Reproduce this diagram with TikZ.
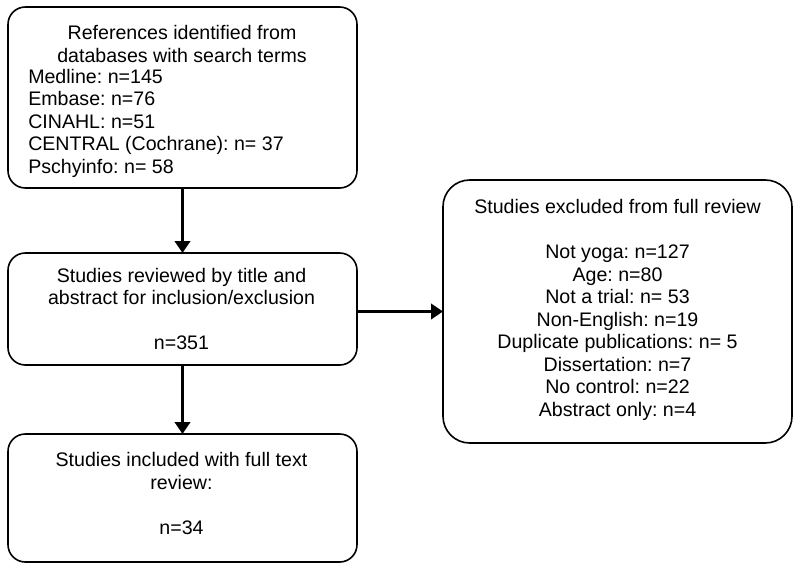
\documentclass[tikz,border=0pt]{standalone}
\usepackage{fontspec}
\setmainfont{Liberation Sans}
\usetikzlibrary{arrows.meta}
\frenchspacing
\begin{document}
\begin{tikzpicture}[x=0.75pt,y=-0.75pt,
  box/.style={draw, line width=1.2pt, rounded corners=13pt, inner sep=0pt, outer sep=0pt, minimum width=261.75pt},
  txt/.style={inner sep=0pt, font=\fontsize{14.7}{16.9}\selectfont},
  arr/.style={line width=2.4pt, -{Triangle[length=9pt,width=11.5pt]}}]
\useasboundingbox (0,0) rectangle (800,568);
\node[box, minimum height=135.75pt] (b1) at (182.5,97.5) {};
\node[box, minimum height=84pt] (b2) at (182.5,309) {};
\node[box, minimum height=96pt] (b4) at (182.5,498) {};
\node[box, rounded corners=20pt, minimum height=197.25pt] (b3) at (617.5,311.5) {};
\node[txt, align=center] (t1a) at (182,44) {References identified from\\databases with search terms};
\node[txt, align=left, anchor=west] (t1b) at (28,123) {Medline: n=145\\Embase: n=76\\CINAHL: n=51\\CENTRAL (Cochrane): n= 37\\Pschyinfo: n= 58};
\node[txt, align=center] (t2) at (181.5,309) {Studies reviewed by title and\\abstract for inclusion/exclusion\\[16.9pt]n=351};
\node[txt, align=center] (t4) at (181.5,493.5) {Studies included with full text\\review:\\[16.9pt]n=34};
\node[txt, align=center] (t3) at (617.5,310) {Studies excluded from full review\\[16.9pt]Not yoga: n=127\\Age: n=80\\Not a trial: n= 53\\Non-English: n=19\\Duplicate publications: n= 5\\Dissertation: n=7\\No control: n=22\\Abstract only: n=4};
\draw[arr] (b1.south) -- (b2.north);
\draw[arr] (b2.south) -- (b4.north);
\draw[arr] (b3.west -| b2.east) -- (b3.west);
\end{tikzpicture}
\end{document}
